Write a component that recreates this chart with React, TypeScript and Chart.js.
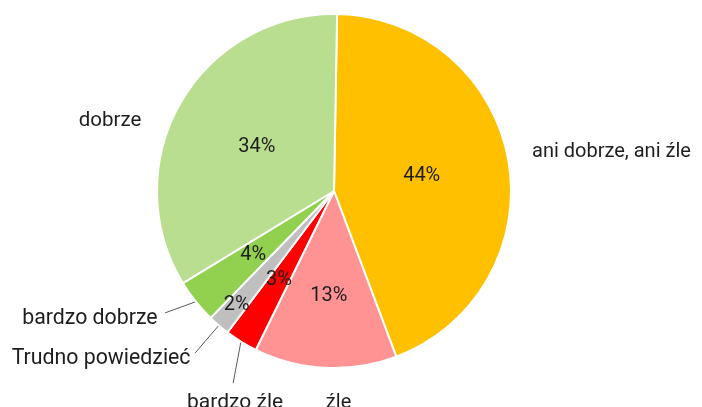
import React, { useEffect, useRef } from "react";
import { Chart, registerables } from "chart.js";

Chart.register(...registerables);

const categories = [
  "ani dobrze, ani źle",
  "źle",
  "bardzo źle",
  "Trudno powiedzieć",
  "bardzo dobrze",
  "dobrze",
];
const values = [44, 13, 3, 2, 4, 34];
const colors = ["#FFC000", "#FF9393", "#FF0000", "#BFBFBF", "#92D050", "#B9DE8F"];
const pctLabels = values.map((v) => v + "%");

// label placement, polar relative to the pie centre (degrees clockwise from top, radius units)
const pctRadius = [0.5, 0.59, 0.59, 0.84, 0.58, 0.5];
const nameAngle = [83.1, 178.8, 204.5, 233.4, 241.4, 286.2];
const nameRadius = [1.57, 1.219, 1.34, 1.63, 1.562, 1.31];
const nameSize = [20, 20, 21, 21.3, 21.3, 20.5];
const leaderEnd: (number[] | null)[] = [null, null, [207.7, 1.219], [220.6, 1.199], [234.2, 1.171], null];

const TEXT = "#1e1e1e";

const labelPlugin = {
  id: "pieLabels",
  afterDatasetsDraw(chart: any) {
    const ctx = chart.ctx;
    const meta = chart.getDatasetMeta(0);
    ctx.save();
    ctx.fillStyle = TEXT;
    meta.data.forEach((arc: any, i: number) => {
      const { x, y, startAngle, endAngle, outerRadius } = arc.getProps(
        ["x", "y", "startAngle", "endAngle", "outerRadius"],
        true
      );
      const R = outerRadius + 1;
      const mid = (startAngle + endAngle) / 2;
      // percentage
      ctx.font = "20px Roboto";
      ctx.textAlign = "center";
      ctx.textBaseline = "middle";
      const pr = R * pctRadius[i];
      ctx.fillStyle = TEXT;
      ctx.fillText(pctLabels[i], x + pr * Math.cos(mid), y + pr * Math.sin(mid));
      // category name
      ctx.font = nameSize[i] + "px Roboto";
      const a = ((nameAngle[i] - 90) * Math.PI) / 180;
      const nr = R * nameRadius[i];
      ctx.textBaseline = "alphabetic";
      ctx.fillText(categories[i], x + nr * Math.cos(a), y + nr * Math.sin(a));
      // leader line
      const le = leaderEnd[i];
      if (le) {
        const ea = ((le[0] - 90) * Math.PI) / 180;
        const er = R * le[1];
        ctx.beginPath();
        ctx.strokeStyle = "#5a5a5a";
        ctx.lineWidth = 1;
        ctx.moveTo(x + R * Math.cos(mid), y + R * Math.sin(mid));
        ctx.lineTo(x + er * Math.cos(ea), y + er * Math.sin(ea));
        ctx.stroke();
      }
    });
    ctx.restore();
  },
};

export default function App() {
  const ref = useRef<HTMLCanvasElement>(null);
  useEffect(() => {
    if (!ref.current) return;
    const chart = new Chart(ref.current, {
      type: "pie",
      data: {
        labels: categories,
        datasets: [
          {
            data: values,
            backgroundColor: colors,
            borderColor: "#ffffff",
            borderWidth: 2,
            hoverBorderWidth: 2,
          },
        ],
      },
      options: {
        responsive: false,
        animation: false,
        rotation: 1,
        layout: { padding: { left: 156, right: 190, top: 13, bottom: 38 } },
        plugins: {
          legend: { display: false },
          tooltip: { enabled: false },
        },
      },
      plugins: [labelPlugin],
    });
    return () => chart.destroy();
  }, []);
  return (
    <div style={{ position: "absolute", left: 0, top: 0, width: 702, height: 407, background: "#fff" }}>
      <canvas ref={ref} width={702} height={407} style={{ width: 702, height: 407, display: "block" }} />
    </div>
  );
}
